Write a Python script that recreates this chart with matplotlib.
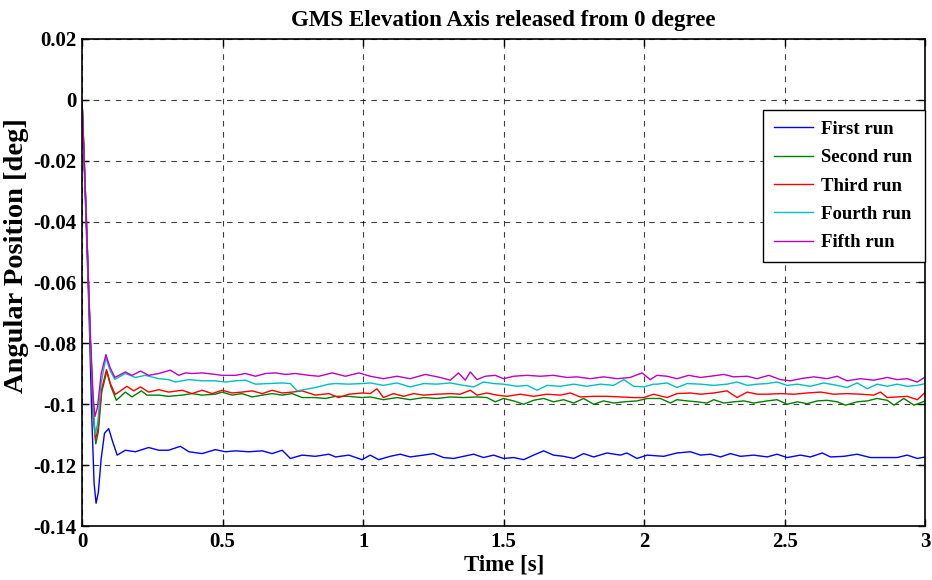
import numpy as np
import matplotlib
matplotlib.use('Agg')
import matplotlib.pyplot as plt

plt.rcParams['font.family'] = ['Liberation Serif', 'DejaVu Serif']
plt.rcParams['font.weight'] = 'bold'

# ---- data (time in s, angle in deg) ----
t_first = [0, 0.012, 0.025, 0.035, 0.043, 0.05, 0.058, 0.068, 0.08, 0.095, 0.108, 0.125,
           0.154, 0.190, 0.237, 0.273, 0.308, 0.350, 0.380, 0.427, 0.474, 0.510, 0.546, 0.593,
           0.641, 0.676, 0.712, 0.741, 0.783, 0.830, 0.878, 0.902, 0.949, 0.996,
           1.025, 1.055, 1.096, 1.132, 1.167, 1.215, 1.250, 1.286, 1.322, 1.357, 1.393, 1.428,
           1.464, 1.499, 1.535, 1.571, 1.606, 1.642, 1.677, 1.713, 1.749, 1.784, 1.820, 1.867,
           1.915, 1.938, 1.974, 2.010, 2.069, 2.116, 2.164, 2.200, 2.235, 2.271, 2.306, 2.342,
           2.389, 2.437, 2.472, 2.508, 2.555, 2.591, 2.633, 2.662, 2.710, 2.757, 2.804, 2.852,
           2.899, 2.935, 2.971, 3.000]
first_run = [0, -0.033, -0.070, -0.105, -0.126, -0.1325, -0.129, -0.118, -0.1095, -0.108, -0.112, -0.1167,
             -0.1151, -0.1156, -0.1142, -0.1151, -0.1151, -0.1138, -0.1156, -0.1162, -0.1149, -0.1156, -0.1153, -0.1156,
             -0.1153, -0.1162, -0.1151, -0.1178, -0.1167, -0.1171, -0.1164, -0.1173, -0.1167, -0.1182,
             -0.1167, -0.1182, -0.1171, -0.1164, -0.1173, -0.1167, -0.1162, -0.1175, -0.1178, -0.1171, -0.1164, -0.1175,
             -0.1167, -0.1178, -0.1175, -0.1182, -0.1167, -0.1153, -0.1167, -0.1171, -0.1178, -0.1162, -0.1173, -0.1160,
             -0.1167, -0.1160, -0.1178, -0.1167, -0.1171, -0.1160, -0.1156, -0.1167, -0.1164, -0.1173, -0.1162, -0.1171,
             -0.1167, -0.1173, -0.1164, -0.1175, -0.1167, -0.1173, -0.1160, -0.1173, -0.1171, -0.1164, -0.1175, -0.1175,
             -0.1175, -0.1167, -0.1178, -0.1173]

t_second = [0, 0.015, 0.03, 0.04, 0.049, 0.058, 0.07, 0.088, 0.102, 0.122,
            0.154, 0.178, 0.211, 0.231, 0.273, 0.308, 0.356, 0.391, 0.427, 0.474, 0.498, 0.534,
            0.569, 0.605, 0.641, 0.676, 0.712, 0.747, 0.783, 0.830, 0.866, 0.902, 0.949, 0.996,
            1.025, 1.072, 1.120, 1.167, 1.215, 1.262, 1.310, 1.357, 1.405, 1.440, 1.470, 1.499,
            1.535, 1.571, 1.606, 1.642, 1.677, 1.713, 1.749, 1.784, 1.820, 1.855, 1.891, 1.927,
            1.974, 2.010, 2.057, 2.093, 2.116, 2.152, 2.188, 2.223, 2.247, 2.283, 2.318, 2.354,
            2.389, 2.437, 2.472, 2.508, 2.544, 2.579, 2.615, 2.650, 2.686, 2.716, 2.757, 2.793,
            2.828, 2.864, 2.888, 2.923, 2.959, 3.000]
second_run = [0, -0.038, -0.080, -0.104, -0.113, -0.109, -0.096, -0.0892, -0.094, -0.0987,
              -0.0960, -0.0976, -0.0956, -0.0970, -0.0970, -0.0974, -0.0970, -0.0965, -0.0970, -0.0967, -0.0960, -0.0970,
              -0.0965, -0.0976, -0.0970, -0.0965, -0.0970, -0.0965, -0.0978, -0.0978, -0.0981, -0.0974, -0.0974, -0.0978,
              -0.0976, -0.0985, -0.0978, -0.0985, -0.0978, -0.0981, -0.0976, -0.0978, -0.0976, -0.0978, -0.0992, -0.0981,
              -0.0989, -0.1000, -0.0987, -0.0981, -0.0992, -0.0985, -0.0996, -0.0981, -0.1000, -0.0989, -0.0996, -0.0992,
              -0.0989, -0.0981, -0.0981, -0.0996, -0.0985, -0.0989, -0.0992, -0.0996, -0.0985, -0.0996, -0.0992, -0.0989,
              -0.0996, -0.0989, -0.0985, -0.1000, -0.0992, -0.0998, -0.0989, -0.0987, -0.0992, -0.1003, -0.0992, -0.0989,
              -0.0981, -0.0987, -0.1003, -0.0981, -0.1003, -0.0989]

t_third = [0, 0.015, 0.03, 0.04, 0.048, 0.057, 0.07, 0.087, 0.1, 0.118,
           0.160, 0.184, 0.208, 0.237, 0.273, 0.308, 0.356, 0.391, 0.427, 0.463, 0.498, 0.534,
           0.569, 0.605, 0.641, 0.676, 0.712, 0.747, 0.783, 0.830, 0.878, 0.913, 0.949, 0.996,
           1.025, 1.049, 1.072, 1.108, 1.144, 1.179, 1.215, 1.262, 1.310, 1.345, 1.381, 1.405,
           1.440, 1.476, 1.511, 1.559, 1.606, 1.654, 1.701, 1.737, 1.772, 1.820, 1.867, 1.915,
           1.962, 1.998, 2.033, 2.045, 2.081, 2.116, 2.164, 2.200, 2.247, 2.294, 2.330, 2.366,
           2.401, 2.437, 2.484, 2.532, 2.579, 2.627, 2.674, 2.721, 2.769, 2.816, 2.840, 2.864,
           2.899, 2.935, 2.971, 3.000]
third_run = [0, -0.038, -0.080, -0.103, -0.1115, -0.108, -0.095, -0.0886, -0.093, -0.0968,
             -0.0941, -0.0956, -0.0943, -0.0960, -0.0952, -0.0960, -0.0954, -0.0965, -0.0954, -0.0965, -0.0954, -0.0963,
             -0.0960, -0.0956, -0.0965, -0.0954, -0.0963, -0.0960, -0.0956, -0.0970, -0.0965, -0.0978, -0.0967, -0.0963,
             -0.0965, -0.0949, -0.0978, -0.0965, -0.0974, -0.0965, -0.0970, -0.0967, -0.0965, -0.0967, -0.0954, -0.0970,
             -0.0963, -0.0970, -0.0974, -0.0967, -0.0974, -0.0967, -0.0970, -0.0963, -0.0976, -0.0974, -0.0974, -0.0976,
             -0.0978, -0.0978, -0.0967, -0.0970, -0.0978, -0.0965, -0.0963, -0.0967, -0.0963, -0.0956, -0.0978, -0.0960,
             -0.0967, -0.0967, -0.0965, -0.0967, -0.0963, -0.0960, -0.0967, -0.0965, -0.0967, -0.0970, -0.0960, -0.0978,
             -0.0976, -0.0974, -0.0985, -0.0960]

t_fourth = [0, 0.015, 0.03, 0.04, 0.047, 0.056, 0.068, 0.085, 0.1, 0.117,
            0.154, 0.190, 0.225, 0.273, 0.308, 0.332, 0.380, 0.427, 0.474, 0.510, 0.546, 0.581,
            0.617, 0.664, 0.712, 0.741, 0.765, 0.807, 0.830, 0.878, 0.902, 0.949, 0.996,
            1.025, 1.072, 1.120, 1.167, 1.215, 1.262, 1.310, 1.357, 1.393, 1.428, 1.464, 1.499,
            1.547, 1.583, 1.618, 1.654, 1.701, 1.749, 1.796, 1.844, 1.891, 1.927, 1.962, 1.998,
            2.033, 2.045, 2.081, 2.116, 2.152, 2.200, 2.247, 2.294, 2.330, 2.366, 2.401, 2.437,
            2.472, 2.508, 2.544, 2.591, 2.638, 2.686, 2.721, 2.757, 2.793, 2.828, 2.864, 2.899,
            2.935, 2.971, 3.000]
fourth_run = [0, -0.038, -0.080, -0.101, -0.110, -0.106, -0.093, -0.0847, -0.089, -0.0918,
              -0.0899, -0.0912, -0.0905, -0.0916, -0.0919, -0.0927, -0.0919, -0.0923, -0.0923, -0.0927, -0.0923, -0.0921,
              -0.0934, -0.0932, -0.0930, -0.0932, -0.0956, -0.0949, -0.0945, -0.0934, -0.0932, -0.0934, -0.0932,
              -0.0930, -0.0938, -0.0930, -0.0943, -0.0932, -0.0934, -0.0930, -0.0938, -0.0943, -0.0927, -0.0932, -0.0934,
              -0.0941, -0.0938, -0.0954, -0.0938, -0.0941, -0.0934, -0.0941, -0.0934, -0.0938, -0.0919, -0.0941, -0.0943,
              -0.0934, -0.0934, -0.0930, -0.0945, -0.0932, -0.0934, -0.0938, -0.0934, -0.0927, -0.0938, -0.0934, -0.0932,
              -0.0927, -0.0938, -0.0934, -0.0941, -0.0930, -0.0938, -0.0945, -0.0930, -0.0949, -0.0934, -0.0941, -0.0934,
              -0.0941, -0.0938, -0.0932]

t_fifth = [0, 0.015, 0.03, 0.04, 0.046, 0.055, 0.068, 0.085, 0.1, 0.117,
           0.154, 0.178, 0.208, 0.237, 0.273, 0.314, 0.344, 0.368, 0.391, 0.427, 0.474, 0.498,
           0.546, 0.581, 0.617, 0.652, 0.688, 0.724, 0.759, 0.807, 0.842, 0.890, 0.937, 0.985,
           1.025, 1.072, 1.120, 1.167, 1.221, 1.274, 1.310, 1.339, 1.363, 1.381, 1.405, 1.434,
           1.470, 1.499, 1.535, 1.583, 1.630, 1.677, 1.725, 1.760, 1.808, 1.855, 1.903, 1.950,
           1.992, 2.021, 2.045, 2.081, 2.116, 2.158, 2.200, 2.235, 2.283, 2.318, 2.366, 2.401,
           2.443, 2.484, 2.520, 2.555, 2.603, 2.650, 2.686, 2.721, 2.769, 2.816, 2.864, 2.899,
           2.935, 2.971, 3.000]
fifth_run = [0, -0.038, -0.078, -0.098, -0.104, -0.101, -0.090, -0.0837, -0.088, -0.0912,
             -0.0894, -0.0905, -0.0891, -0.0905, -0.0899, -0.0888, -0.0905, -0.0897, -0.0899, -0.0897, -0.0902, -0.0905,
             -0.0905, -0.0899, -0.0908, -0.0899, -0.0897, -0.0902, -0.0899, -0.0905, -0.0908, -0.0897, -0.0908, -0.0897,
             -0.0908, -0.0916, -0.0908, -0.0916, -0.0902, -0.0912, -0.0921, -0.0897, -0.0921, -0.0894, -0.0919, -0.0908,
             -0.0905, -0.0916, -0.0908, -0.0905, -0.0908, -0.0905, -0.0912, -0.0910, -0.0916, -0.0910, -0.0916, -0.0912,
             -0.0897, -0.0919, -0.0905, -0.0908, -0.0916, -0.0905, -0.0912, -0.0908, -0.0902, -0.0910, -0.0908, -0.0916,
             -0.0905, -0.0919, -0.0923, -0.0916, -0.0910, -0.0916, -0.0908, -0.0923, -0.0916, -0.0921, -0.0912, -0.0919,
             -0.0916, -0.0927, -0.0910]

series = [
    (t_first, first_run, 'First run', '#0000ff'),
    (t_second, second_run, 'Second run', '#008000'),
    (t_third, third_run, 'Third run', '#ff0000'),
    (t_fourth, fourth_run, 'Fourth run', '#00bfbf'),
    (t_fifth, fifth_run, 'Fifth run', '#bf00bf'),
]

fig = plt.figure(figsize=(9.32, 5.8), dpi=100)
ax = fig.add_axes([0.088, 0.093, 0.905, 0.84])

for t, y, name, col in series:
    ax.plot(t, y, color=col, linewidth=1.0, label=name)

ax.set_xlim(0, 3)
ax.set_ylim(-0.14, 0.02)
ax.set_xticks(np.arange(0, 3.01, 0.5))
ax.set_xticklabels(['0', '0.5', '1', '1.5', '2', '2.5', '3'])
ax.set_yticks(np.arange(-0.14, 0.021, 0.02))
ax.set_yticklabels(['-0.14', '-0.12', '-0.1', '-0.08', '-0.06', '-0.04', '-0.02', '0', '0.02'])
ax.tick_params(direction='in', top=True, right=True, labelsize=15, length=5, width=1, pad=4)
for lab in ax.get_xticklabels() + ax.get_yticklabels():
    lab.set_fontweight('bold')

ax.grid(True, color='black', linestyle=(0, (5, 5)), linewidth=0.8, alpha=0.75)
for s in ax.spines.values():
    s.set_linewidth(1.2)

ax.set_title('GMS Elevation Axis released from 0 degree', fontsize=16.5, fontweight='bold', pad=9)
ax.set_xlabel('Time [s]', fontsize=16.5, fontweight='bold', labelpad=2)
ax.set_ylabel('Angular Position [deg]', fontsize=20.5, fontweight='bold')
ax.yaxis.set_label_coords(-0.0625, 0.555)

leg = ax.legend(loc='upper left', bbox_to_anchor=(0.8078, 0.0, 0.1922, 0.853), mode='expand',
                borderaxespad=0, prop={'weight': 'bold', 'size': 13.5}, fancybox=False,
                framealpha=1, edgecolor='black', handlelength=2.1, handletextpad=0.45,
                borderpad=0.55, labelspacing=0.6)
leg.get_frame().set_linewidth(1.0)

plt.savefig('out.png', dpi=100)
